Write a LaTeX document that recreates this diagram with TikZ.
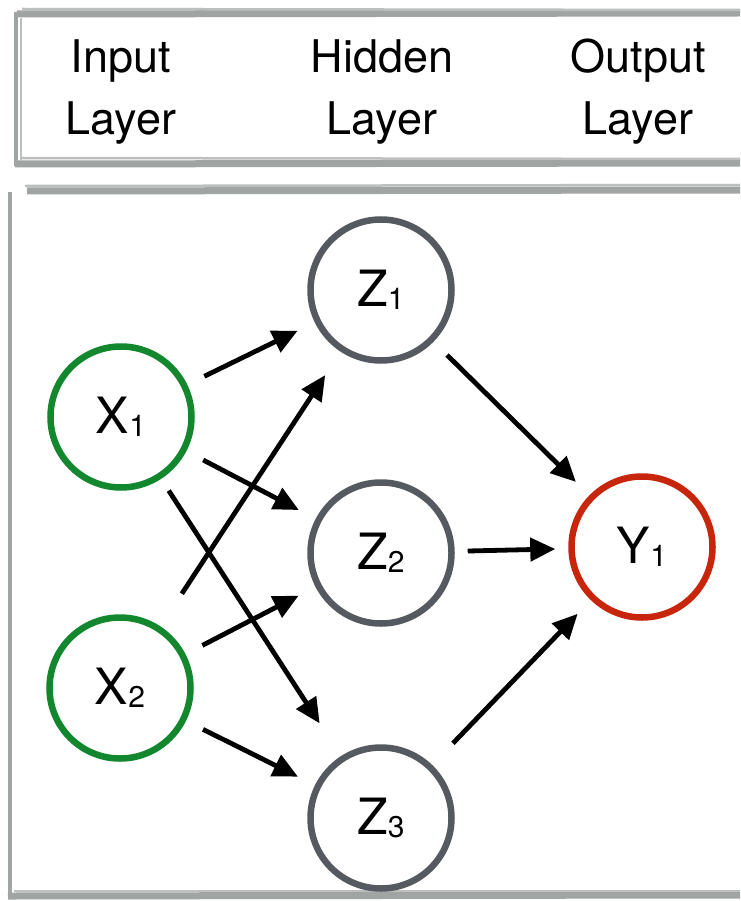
\documentclass[tikz,border=0pt]{standalone}
\usepackage{fontspec}
\setmainfont{TeX Gyre Heros}
\usetikzlibrary{arrows.meta}
\definecolor{ingreen}{RGB}{18,135,45}
\definecolor{outred}{RGB}{200,38,12}
\definecolor{hidgrey}{RGB}{85,90,96}
\definecolor{brush}{RGB}{160,164,163}
\newcommand{\lbl}[2]{#1{\fontsize{30}{30}\selectfont\raisebox{-3pt}{#2}}}
\tikzset{
  hdr/.style={align=center, font=\fontsize{45}{62}\selectfont, inner sep=0pt},
  neuron/.style={circle, draw, line width=6.5pt, minimum size=141pt, inner sep=0pt,
                 font=\fontsize{50}{50}\selectfont},
  innode/.style={neuron, draw=ingreen},
  hidnode/.style={neuron, draw=hidgrey},
  outnode/.style={neuron, draw=outred},
  arr/.style={line width=4.8pt, -{Triangle[length=25pt, width=23pt]},
              shorten <=19pt, shorten >=19pt},
  border/.style={draw=brush, line width=7pt},
  borderthin/.style={draw=brush!70, line width=2.5pt}
}
\begin{document}
\begin{tikzpicture}[x=1pt, y=-1pt]
\useasboundingbox (0,0) rectangle (740,901);
\fill[white] (0,0) rectangle (740,901);
% header box
\draw[border] (17,14) -- (740,13);
\draw[borderthin] (22,9) -- (740,10);
\draw[border, line width=3.5pt] (16,12) -- (16,166);
\draw[borderthin] (21,18) -- (21,160);
\draw[border] (15,164) -- (740,163);
\draw[borderthin] (22,158) -- (740,159);
% main box
\draw[border] (27,191) -- (740,190);
\draw[borderthin] (25,186) -- (740,185);
\draw[border, line width=3.5pt] (10,192) -- (10,898);
\draw[border] (8,896) -- (740,895);
\draw[borderthin] (14,891) -- (740,891);
% headers
\node[hdr] (hin) at (121,92) {Input\\Layer};
\node[hdr] (hhid) at (382,92) {Hidden\\Layer};
\node[hdr] (hout) at (638,92) {Output\\Layer};
% nodes
\node[innode] (x1) at (121,417) {\lbl{X}{1}};
\node[innode] (x2) at (120,688) {\lbl{X}{2}};
\node[hidnode] (z1) at (381,290) {\lbl{Z}{1}};
\node[hidnode] (z2) at (381,553) {\lbl{Z}{2}};
\node[hidnode] (z3) at (381,818) {\lbl{Z}{3}};
\node[outnode] (y1) at (642,547) {\lbl{Y}{1}};
% connectors
\draw[arr] (x1) -- (z1);
\draw[arr] (x1) -- (z2);
\draw[arr, shorten <=14pt, shorten >=39pt] (x1) -- (z3);
\draw[arr] (x2) -- (z2);
\draw[arr, shorten <=39pt, shorten >=28pt] (x2) -- (z1);
\draw[arr] (x2) -- (z3);
\draw[arr] (z1) -- (y1);
\draw[arr, shorten <=13pt, shorten >=13pt] (z2) -- (y1);
\draw[arr, shorten <=30pt] (z3) -- (y1);
\end{tikzpicture}
\end{document}
